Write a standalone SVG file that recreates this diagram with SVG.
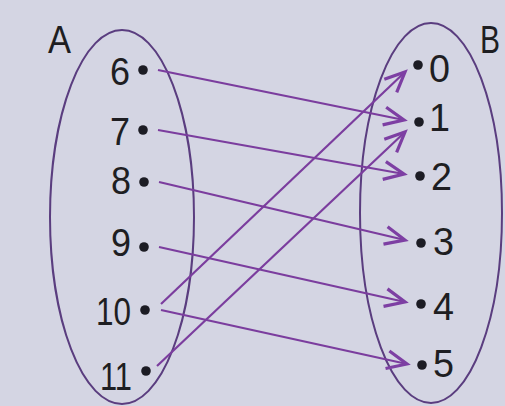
<svg xmlns="http://www.w3.org/2000/svg" width="505" height="406" viewBox="0 0 505 406">
<defs>
<marker id="ah" markerUnits="userSpaceOnUse" markerWidth="26" markerHeight="24" viewBox="0 0 26 24" refX="22" refY="12" orient="auto">
<path d="M2,3 L22,12 L2,21" fill="none" stroke="#7d3fa3" stroke-width="3.2" stroke-linejoin="miter"/>
</marker>
<style>
.set{fill:none;stroke:#5a3d7f;stroke-width:2}
.lbl{font-family:"Liberation Sans",Arial,sans-serif;font-size:38px;fill:#1e1e22}
.dot{fill:#1c1c24}
.arr{stroke:#7b3d9e;stroke-width:2.2;fill:none;marker-end:url(#ah)}
</style>
</defs>
<rect width="505" height="406" fill="#d4d5e3"/>
<g id="setA">
<ellipse class="set" cx="122" cy="217" rx="72" ry="187"/>
<text class="lbl" x="48" y="53" textLength="23" lengthAdjust="spacingAndGlyphs">A</text>
</g>
<g id="setB">
<ellipse class="set" cx="431" cy="213" rx="71" ry="190"/>
<text class="lbl" x="480" y="53" textLength="20" lengthAdjust="spacingAndGlyphs">B</text>
</g>
<g id="a6"><circle class="dot" cx="143" cy="70" r="4.8"/><text class="lbl" x="130" y="85" text-anchor="end" textLength="20" lengthAdjust="spacingAndGlyphs">6</text></g>
<g id="a7"><circle class="dot" cx="143" cy="130" r="4.8"/><text class="lbl" x="130" y="145" text-anchor="end" textLength="20" lengthAdjust="spacingAndGlyphs">7</text></g>
<g id="a8"><circle class="dot" cx="144" cy="182" r="4.8"/><text class="lbl" x="131" y="194" text-anchor="end" textLength="20" lengthAdjust="spacingAndGlyphs">8</text></g>
<g id="a9"><circle class="dot" cx="144" cy="247" r="4.8"/><text class="lbl" x="131" y="256" text-anchor="end" textLength="20" lengthAdjust="spacingAndGlyphs">9</text></g>
<g id="a10"><circle class="dot" cx="145" cy="310" r="4.8"/><text class="lbl" x="131" y="325" text-anchor="end" textLength="35" lengthAdjust="spacingAndGlyphs">10</text></g>
<g id="a11"><circle class="dot" cx="146" cy="371" r="4.8"/><text class="lbl" x="132" y="390" text-anchor="end" textLength="32" lengthAdjust="spacingAndGlyphs">11</text></g>
<g id="b0"><circle class="dot" cx="418" cy="65" r="4.8"/><text class="lbl" x="429" y="82" textLength="21" lengthAdjust="spacingAndGlyphs">0</text></g>
<g id="b1"><circle class="dot" cx="419" cy="122" r="4.8"/><text class="lbl" x="429" y="131" textLength="21" lengthAdjust="spacingAndGlyphs">1</text></g>
<g id="b2"><circle class="dot" cx="420" cy="176" r="4.8"/><text class="lbl" x="431" y="190" textLength="21" lengthAdjust="spacingAndGlyphs">2</text></g>
<g id="b3"><circle class="dot" cx="421" cy="243" r="4.8"/><text class="lbl" x="433" y="255" textLength="21" lengthAdjust="spacingAndGlyphs">3</text></g>
<g id="b4"><circle class="dot" cx="421" cy="304" r="4.8"/><text class="lbl" x="433" y="320" textLength="21" lengthAdjust="spacingAndGlyphs">4</text></g>
<g id="b5"><circle class="dot" cx="422" cy="365" r="4.8"/><text class="lbl" x="433" y="377" textLength="21" lengthAdjust="spacingAndGlyphs">5</text></g>
<g id="connectors">
<line class="arr" x1="158" y1="70" x2="404" y2="120"/>
<line class="arr" x1="158" y1="130" x2="404" y2="174"/>
<line class="arr" x1="159" y1="182" x2="405" y2="240"/>
<line class="arr" x1="159" y1="247" x2="405" y2="302"/>
<line class="arr" x1="161" y1="310" x2="407" y2="364"/>
<line class="arr" x1="161" y1="304" x2="405" y2="72"/>
<line class="arr" x1="157" y1="366" x2="405" y2="132"/>
</g>
</svg>
